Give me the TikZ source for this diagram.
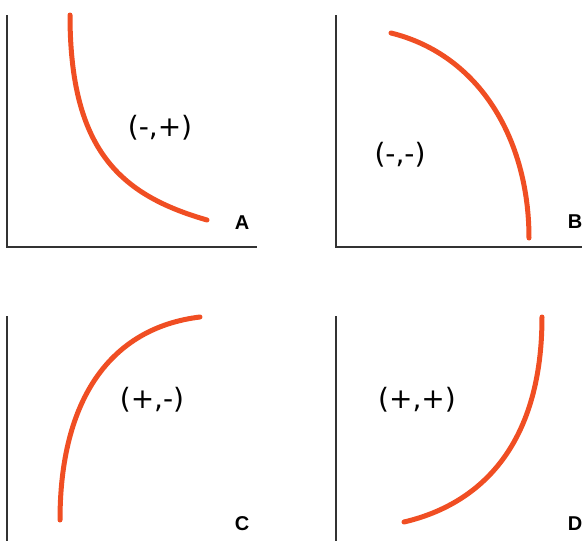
\documentclass[tikz,border=0pt]{standalone}
\usepackage{fontspec}
\setmainfont{DejaVu Sans}
\newfontfamily\letterfont{Liberation Sans}
\usepackage{tikz}
\usetikzlibrary{positioning}
\definecolor{curvered}{HTML}{F04E23}
\definecolor{axisgray}{HTML}{333333}
\tikzset{
  axisline/.style={draw=axisgray,line width=1.1pt},
  slopecurve/.style={draw=curvered,line width=5pt,line cap=round},
  signlabel/.style={font=\fontsize{28}{30}\selectfont,inner sep=0pt},
  panellabel/.style={font=\letterfont\fontsize{20}{22}\selectfont\bfseries,inner sep=0pt},
}

\begin{document}
\begin{tikzpicture}[x=1pt,y=-1pt]
  \useasboundingbox (0,0) rectangle (582,541);
  % axes
  \coordinate (oA) at (7,247);
  \coordinate (oB) at (336,247);
  \draw[axisline] (7,15) -- (oA) -- (257,247);
  \draw[axisline] (336,15) -- (oB) -- (582,247);
  \draw[axisline] (7,316) -- (7,541);
  \draw[axisline] (336,316) -- (336,541);
  % curves
  \draw[slopecurve] (70,15) .. controls (70,150) and (120,195) .. (207,220);
  \draw[slopecurve] (391,33) .. controls (480,55) and (529,140) .. (529,238);
  \draw[slopecurve] (60,520) .. controls (60,400) and (110,328) .. (200,317);
  \draw[slopecurve] (404,522) .. controls (485,503) and (542,440) .. (542,317);
  % labels
  \node[signlabel] (sA) at (160,128) {(-,+)};
  \node[signlabel] (sB) at (400,155) {(-,-)};
  \node[signlabel] (sC) at (152,400) {(+,-)};
  \node[signlabel] (sD) at (417,400) {(+,+)};
  \node[panellabel] (pA) at (242,223) {A};
  \node[panellabel] (pB) at (575,222) {B};
  \node[panellabel] (pC) at (242,524) {C};
  \node[panellabel] (pD) at (575,524) {D};
\end{tikzpicture}
\end{document}
